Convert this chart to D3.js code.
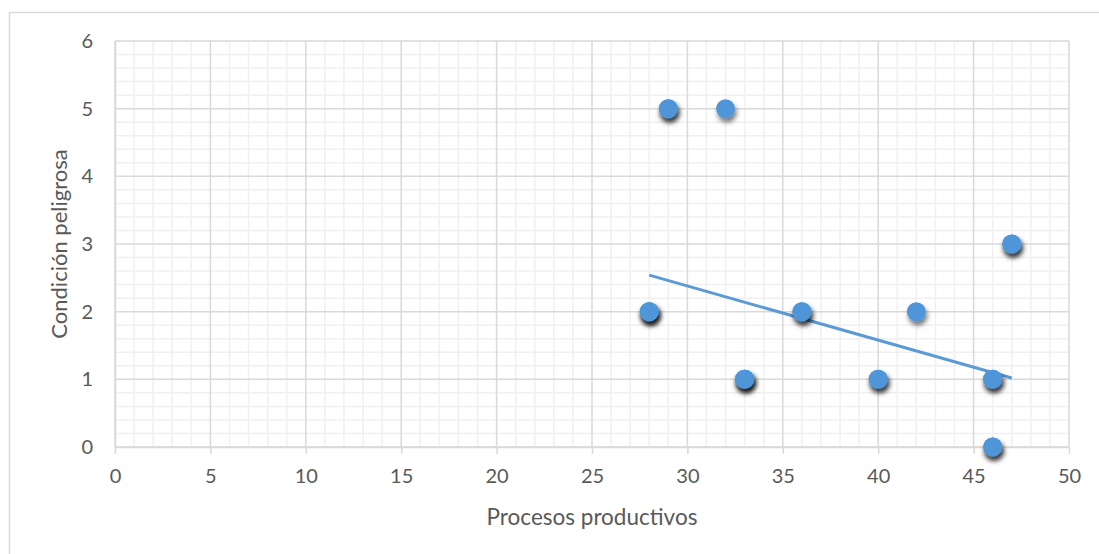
<!DOCTYPE html>
<html>
<head>
<meta charset="utf-8">
<script src="https://cdn.jsdelivr.net/npm/d3@7/dist/d3.min.js"></script>
<style>
  html, body { margin: 0; padding: 0; background: #fff; }
  svg { display: block; }
  text { font-family: Lato, "Open Sans", sans-serif; fill: #595959; }
</style>
</head>
<body>
<svg id="chart" width="1099" height="554"></svg>
<script>
// Observations (repeated pairs are drawn as stacked markers)
const procesos  = [28, 28, 28, 29, 29, 32, 33, 33, 33, 36, 36, 40, 40, 42, 46, 46, 46, 46, 47, 47];
const condicion = [ 2,  2,  2,  5,  5,  5,  1,  1,  1,  2,  2,  1,  1,  2,  0,  0,  1,  1,  3,  3];

// Linear trend endpoints
const trendX = [28, 47];
const trendY = [2.54, 1.02];

const xTicks = [0, 5, 10, 15, 20, 25, 30, 35, 40, 45, 50];
const yTicks = [0, 1, 2, 3, 4, 5, 6];

const xTitle = "Procesos productivos";
const yTitle = "Condición peligrosa";

const svg = d3.select("#chart");
const W = 1099, H = 554;
const plot = { left: 115, right: 1069, top: 41, bottom: 447 };

const x = d3.scaleLinear().domain([0, 50]).range([plot.left, plot.right]);
const y = d3.scaleLinear().domain([0, 6]).range([plot.bottom, plot.top]);

// outer chart frame
svg.append("rect")
  .attr("x", 9.5).attr("y", 12.5)
  .attr("width", W + 20).attr("height", H + 20)
  .attr("fill", "none").attr("stroke", "#d9d9d9").attr("stroke-width", 1.5);

const defs = svg.append("defs");
const f = defs.append("filter").attr("id", "shadow")
  .attr("x", "-80%").attr("y", "-80%").attr("width", "260%").attr("height", "260%");
f.append("feDropShadow")
  .attr("dx", 1.5).attr("dy", 4).attr("stdDeviation", 2.6)
  .attr("flood-color", "#000").attr("flood-opacity", 0.55);

const grid = svg.append("g");

// minor gridlines
const xMinor = d3.range(0, 51, 1).filter(v => v % 5 !== 0);
const yMinor = d3.range(0, 6.01, 0.2).map(v => +v.toFixed(1)).filter(v => Math.abs(v - Math.round(v)) > 1e-6);

grid.selectAll(".xm").data(xMinor).enter().append("line")
  .attr("x1", d => x(d)).attr("x2", d => x(d))
  .attr("y1", plot.top).attr("y2", plot.bottom)
  .attr("stroke", "#f0f0f0").attr("stroke-width", 1.5);
grid.selectAll(".ym").data(yMinor).enter().append("line")
  .attr("x1", plot.left).attr("x2", plot.right)
  .attr("y1", d => y(d)).attr("y2", d => y(d))
  .attr("stroke", "#f0f0f0").attr("stroke-width", 1.5);

// major gridlines
grid.selectAll(".xM").data(xTicks).enter().append("line")
  .attr("x1", d => x(d)).attr("x2", d => x(d))
  .attr("y1", plot.top).attr("y2", plot.bottom)
  .attr("stroke", "#d9d9d9").attr("stroke-width", 1.5);
grid.selectAll(".yM").data(yTicks).enter().append("line")
  .attr("x1", plot.left).attr("x2", plot.right)
  .attr("y1", d => y(d)).attr("y2", d => y(d))
  .attr("stroke", "#d9d9d9").attr("stroke-width", 1.5);

// x axis with outward ticks
const xAxis = svg.append("g")
  .attr("transform", `translate(0,${plot.bottom})`)
  .call(d3.axisBottom(x).tickValues(xTicks).tickFormat(d3.format("d"))
        .tickSize(7).tickPadding(15).tickSizeOuter(0));
xAxis.select(".domain").attr("stroke", "#d9d9d9").attr("stroke-width", 1.5);
xAxis.selectAll(".tick line").attr("stroke", "#d9d9d9").attr("stroke-width", 1.5);
xAxis.selectAll("text").style("font-size", "20px").attr("fill", "#595959");

// y axis
const yAxis = svg.append("g")
  .attr("transform", `translate(${plot.left},0)`)
  .call(d3.axisLeft(y).tickValues(yTicks).tickFormat(d3.format("d"))
        .tickSize(0).tickPadding(22));
yAxis.select(".domain").attr("stroke", "#d9d9d9").attr("stroke-width", 1.5);
yAxis.selectAll("text").style("font-size", "20px").attr("fill", "#595959");

// trend line
svg.append("path")
  .datum(trendX.map((v, i) => [v, trendY[i]]))
  .attr("d", d3.line().x(d => x(d[0])).y(d => y(d[1])))
  .attr("fill", "none").attr("stroke", "#5b9bd5").attr("stroke-width", 3);

// markers
const pts = procesos.map((v, i) => ({ x: v, y: condicion[i] }));
svg.append("g").selectAll("circle").data(pts).enter().append("circle")
  .attr("cx", d => x(d.x)).attr("cy", d => y(d.y)).attr("r", 9.5)
  .attr("fill", "#5096d8")
  .attr("filter", "url(#shadow)");

// axis titles
svg.append("text")
  .attr("x", (plot.left + plot.right) / 2).attr("y", 525)
  .attr("text-anchor", "middle").style("font-size", "22.5px")
  .text(xTitle);
svg.append("text")
  .attr("transform", `translate(67,${(plot.top + plot.bottom) / 2}) rotate(-90)`)
  .attr("text-anchor", "middle").style("font-size", "22px")
  .text(yTitle);
</script>
</body>
</html>
